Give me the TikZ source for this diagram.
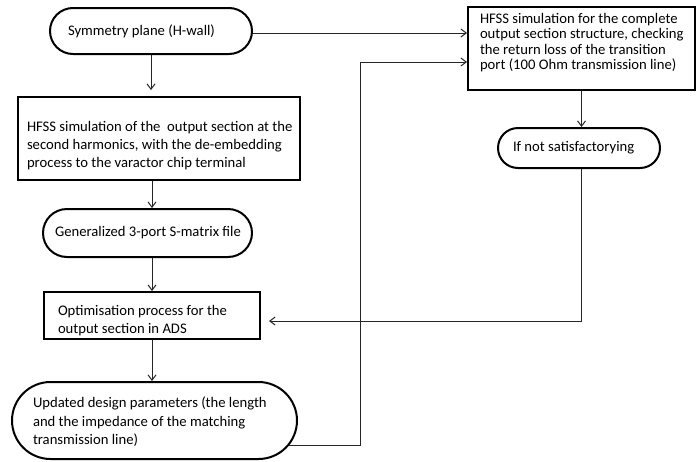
\documentclass[tikz,border=0pt]{standalone}
\usepackage{fontspec}
\setmainfont{Carlito}
\usetikzlibrary{arrows.meta,calc}

% Left-aligned block of lines of a given width, raised by #2 (a zero-size box,
% so the surrounding node keeps its own height)
\newcommand{\flowtext}[3]{%
  \raisebox{\dimexpr#2-2.75pt\relax}[0pt][0pt]{%
    \makebox[#1][l]{\begin{tabular}{@{}l@{}}#3\end{tabular}}}}

\tikzset{
  every node/.style={font=\fontsize{11pt}{13.7pt}\selectfont},
  flowbox/.style={draw=black, line width=1.5pt, fill=white, inner sep=0pt},
  flowpill/.style={flowbox, rounded corners=#1},
  link/.style={line width=0.75pt, draw=black!85},
  arr/.style={link, -{Straight Barb[length=4pt,width=6pt]}},
}

\begin{document}
\begin{tikzpicture}[x=0.75pt, y=-0.75pt]
  \path[fill=white, use as bounding box] (0,0) rectangle (696,461);

  % left column
  \node[flowpill=17.25pt, minimum width=151.5pt, minimum height=34.5pt] (sym) at (151,31)
    {\flowtext{124.5pt}{-0.75pt}{Symmetry plane (H-wall)}};
  \node[flowbox, minimum width=211.5pt, minimum height=62.25pt] (hfssa) at (159,138.5)
    {\flowtext{198pt}{-5.6pt}{HFSS simulation of the\ \ output section at the\\
      second harmonics, with the de-embedding\\ process to the varactor chip terminal}};
  \node[flowpill=18pt, minimum width=156.75pt, minimum height=36pt] (gen) at (147.5,233)
    {\flowtext{138.75pt}{0pt}{Generalized 3-port S-matrix file}};
  \node[flowbox, minimum width=162pt, minimum height=35.25pt] (opt) at (152,315.5)
    {\flowtext{141pt}{-3.75pt}{Optimisation process for the\\ output section in ADS}};
  \node[flowpill=28.9pt, minimum width=213.75pt, minimum height=57.75pt] (upd) at (154.5,420.5)
    {\flowtext{182.25pt}{-1.5pt}{Updated design parameters (the length\\
      and the impedance of the matching\\ transmission line)}};

  % right column
  \node[flowbox, minimum width=170.25pt, minimum height=62.25pt,
        font=\fontsize{11pt}{11.5pt}\selectfont] (hfssb) at (581.5,48.5)
    {\flowtext{152.25pt}{3.75pt}{HFSS simulation for the complete\\
      output section structure, checking\\ the return loss of the transition\\
      port (100 Ohm transmission line)}};
  \node[flowpill=15pt, minimum width=121.5pt, minimum height=30pt] (nsat) at (579,148)
    {\flowtext{99pt}{0pt}{If not satisfactorying}};

  % attachment points off the node centre lines
  \coordinate (symout) at ($(sym.east)+(0,2)$);
  \coordinate (updout) at ($(upd.east)+(-9,24.5)$);
  \coordinate (loopin) at ($(hfssb.west)+(0,13.5)$);
  \coordinate (optin)  at ($(opt.east)+(0,5.5)$);

  % main flow
  \draw[arr, shorten >=4.5pt] (sym.south) -- (sym.south |- hfssa.north);
  \draw[arr] (hfssa.south -| opt.north) -- (gen.north -| opt.north);
  \draw[arr] (gen.south -| opt.north) -- (opt.north);
  \draw[arr] (opt.south) -- (upd.north -| opt.south);

  % links to and from the right column
  \draw[arr] (symout) -- (symout -| hfssb.west);
  \draw[arr] (updout) -- ++(71,0) |- (loopin);
  \draw[arr] (hfssb.south) -- (hfssb.south |- nsat.north);
  \draw[arr, shorten >=6pt] (nsat.south -| hfssb.south) |- (optin);
\end{tikzpicture}
\end{document}
